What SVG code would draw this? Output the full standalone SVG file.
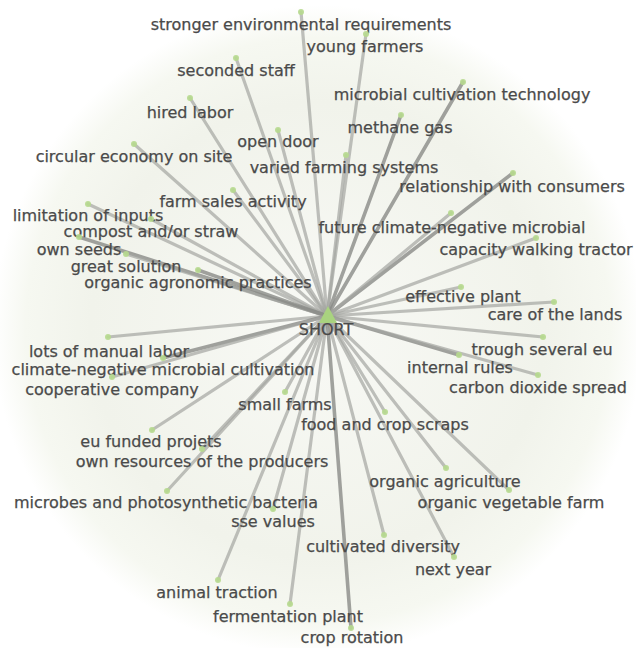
<svg xmlns="http://www.w3.org/2000/svg" width="636" height="648" viewBox="0 0 636 648">
<defs>
<radialGradient id="bg" cx="318" cy="330" r="325" gradientUnits="userSpaceOnUse">
<stop offset="0" stop-color="#f8f9f5"/>
<stop offset="0.7" stop-color="#f1f3eb"/>
<stop offset="0.9" stop-color="#f6f8f1"/>
<stop offset="1" stop-color="#ffffff"/>
</radialGradient>
</defs>
<style>
.e{stroke:#a4a5a1;stroke-width:3.2;stroke-opacity:0.7;stroke-linecap:round;fill:none}
.s{stroke:#8a8b87;stroke-width:3.6;stroke-opacity:0.8}
.d{fill:#b6d98e;opacity:0.9}
text{font-family:"DejaVu Sans","Liberation Sans",sans-serif;font-size:16px;fill:#4a4a4a;stroke:#4a4a4a;stroke-width:0.25;text-anchor:middle}
</style>
<rect width="636" height="648" fill="#ffffff"/>
<circle cx="318" cy="330" r="325" fill="url(#bg)"/>
<g id="edges">
<line class="e" x1="327" y1="316" x2="301" y2="12"/>
<line class="e" x1="327" y1="316" x2="366" y2="34"/>
<line class="e" x1="327" y1="316" x2="236" y2="58"/>
<line class="e s" x1="327" y1="316" x2="463" y2="82"/>
<line class="e" x1="327" y1="316" x2="190" y2="98"/>
<line class="e s" x1="327" y1="316" x2="401" y2="115"/>
<line class="e" x1="327" y1="316" x2="278" y2="130"/>
<line class="e" x1="327" y1="316" x2="134" y2="144"/>
<line class="e" x1="327" y1="316" x2="346" y2="155"/>
<line class="e s" x1="327" y1="316" x2="513" y2="173"/>
<line class="e" x1="327" y1="316" x2="233" y2="190"/>
<line class="e" x1="327" y1="316" x2="88" y2="204"/>
<line class="e" x1="327" y1="316" x2="451" y2="213"/>
<line class="e" x1="327" y1="316" x2="151" y2="219"/>
<line class="e" x1="327" y1="316" x2="536" y2="238"/>
<line class="e s" x1="327" y1="316" x2="79" y2="237"/>
<line class="e" x1="327" y1="316" x2="126" y2="254"/>
<line class="e s" x1="327" y1="316" x2="198" y2="270"/>
<line class="e" x1="327" y1="316" x2="461" y2="287"/>
<line class="e" x1="327" y1="316" x2="554" y2="302"/>
<line class="e" x1="327" y1="316" x2="108" y2="337"/>
<line class="e" x1="327" y1="316" x2="543" y2="337"/>
<line class="e s" x1="327" y1="316" x2="459" y2="355"/>
<line class="e s" x1="327" y1="316" x2="163" y2="358"/>
<line class="e" x1="327" y1="316" x2="538" y2="375"/>
<line class="e" x1="327" y1="316" x2="112" y2="377"/>
<line class="e" x1="327" y1="316" x2="285" y2="392"/>
<line class="e" x1="327" y1="316" x2="385" y2="412"/>
<line class="e" x1="327" y1="316" x2="152" y2="430"/>
<line class="e" x1="327" y1="316" x2="202" y2="449"/>
<line class="e" x1="327" y1="316" x2="446" y2="468"/>
<line class="e" x1="327" y1="316" x2="167" y2="491"/>
<line class="e" x1="327" y1="316" x2="509" y2="490"/>
<line class="e" x1="327" y1="316" x2="273" y2="509"/>
<line class="e" x1="327" y1="316" x2="384" y2="535"/>
<line class="e" x1="327" y1="316" x2="454" y2="557"/>
<line class="e" x1="327" y1="316" x2="218" y2="580"/>
<line class="e" x1="327" y1="316" x2="290" y2="604"/>
<line class="e s" x1="327" y1="316" x2="351" y2="628"/>
</g>
<g id="n1"><circle class="d" cx="301" cy="12" r="3"/><text x="301" y="30">stronger environmental requirements</text></g>
<g id="n2"><circle class="d" cx="366" cy="34" r="3"/><text x="365" y="52">young farmers</text></g>
<g id="n3"><circle class="d" cx="236" cy="58" r="3"/><text x="236" y="76">seconded staff</text></g>
<g id="n4"><circle class="d" cx="463" cy="82" r="3"/><text x="462" y="100">microbial cultivation technology</text></g>
<g id="n5"><circle class="d" cx="190" cy="98" r="3"/><text x="190" y="118">hired labor</text></g>
<g id="n6"><circle class="d" cx="401" cy="115" r="3"/><text x="400" y="133">methane gas</text></g>
<g id="n7"><circle class="d" cx="278" cy="130" r="3"/><text x="278" y="147">open door</text></g>
<g id="n8"><circle class="d" cx="134" cy="144" r="3"/><text x="134" y="162">circular economy on site</text></g>
<g id="n9"><circle class="d" cx="346" cy="155" r="3"/><text x="344" y="173">varied farming systems</text></g>
<g id="n10"><circle class="d" cx="513" cy="173" r="3"/><text x="512" y="192">relationship with consumers</text></g>
<g id="n11"><circle class="d" cx="233" cy="190" r="3"/><text x="233" y="207">farm sales activity</text></g>
<g id="n12"><circle class="d" cx="88" cy="204" r="3"/><text x="88" y="221">limitation of inputs</text></g>
<g id="n13"><circle class="d" cx="451" cy="213" r="3"/><text x="452" y="233">future climate-negative microbial</text></g>
<g id="n14"><circle class="d" cx="151" cy="219" r="3"/><text x="151" y="237">compost and/or straw</text></g>
<g id="n15"><circle class="d" cx="536" cy="238" r="3"/><text x="536" y="255">capacity walking tractor</text></g>
<g id="n16"><circle class="d" cx="79" cy="237" r="3"/><text x="79" y="255">own seeds</text></g>
<g id="n17"><circle class="d" cx="126" cy="254" r="3"/><text x="126" y="272">great solution</text></g>
<g id="n18"><circle class="d" cx="198" cy="270" r="3"/><text x="198" y="288">organic agronomic practices</text></g>
<g id="n19"><circle class="d" cx="461" cy="287" r="3"/><text x="463" y="302">effective plant</text></g>
<g id="n20"><circle class="d" cx="554" cy="302" r="3"/><text x="555" y="320">care of the lands</text></g>
<g id="n21"><circle class="d" cx="108" cy="337" r="3"/><text x="109" y="357">lots of manual labor</text></g>
<g id="n22"><circle class="d" cx="543" cy="337" r="3"/><text x="542" y="355">trough several eu</text></g>
<g id="n23"><circle class="d" cx="459" cy="355" r="3"/><text x="460" y="373">internal rules</text></g>
<g id="n24"><circle class="d" cx="163" cy="358" r="3"/><text x="163" y="375">climate-negative microbial cultivation</text></g>
<g id="n25"><circle class="d" cx="538" cy="375" r="3"/><text x="538" y="393">carbon dioxide spread</text></g>
<g id="n26"><circle class="d" cx="112" cy="377" r="3"/><text x="112" y="395">cooperative company</text></g>
<g id="n27"><circle class="d" cx="285" cy="392" r="3"/><text x="285" y="410">small farms</text></g>
<g id="n28"><circle class="d" cx="385" cy="412" r="3"/><text x="385" y="430">food and crop scraps</text></g>
<g id="n29"><circle class="d" cx="152" cy="430" r="3"/><text x="151" y="447">eu funded projets</text></g>
<g id="n30"><circle class="d" cx="202" cy="449" r="3"/><text x="202" y="467">own resources of the producers</text></g>
<g id="n31"><circle class="d" cx="446" cy="468" r="3"/><text x="445" y="487">organic agriculture</text></g>
<g id="n32"><circle class="d" cx="167" cy="491" r="3"/><text x="166" y="508">microbes and photosynthetic bacteria</text></g>
<g id="n33"><circle class="d" cx="509" cy="490" r="3"/><text x="511" y="508">organic vegetable farm</text></g>
<g id="n34"><circle class="d" cx="273" cy="509" r="3"/><text x="273" y="527">sse values</text></g>
<g id="n35"><circle class="d" cx="384" cy="535" r="3"/><text x="383" y="552">cultivated diversity</text></g>
<g id="n36"><circle class="d" cx="454" cy="557" r="3"/><text x="453" y="575">next year</text></g>
<g id="n37"><circle class="d" cx="218" cy="580" r="3"/><text x="217" y="598">animal traction</text></g>
<g id="n38"><circle class="d" cx="290" cy="604" r="3"/><text x="288" y="622">fermentation plant</text></g>
<g id="n39"><circle class="d" cx="351" cy="628" r="3"/><text x="352" y="643">crop rotation</text></g>
<g id="center"><polygon points="328,306 319,323 337,323" fill="#a9d37f"/><text x="326" y="335">SHORT</text></g>
</svg>
